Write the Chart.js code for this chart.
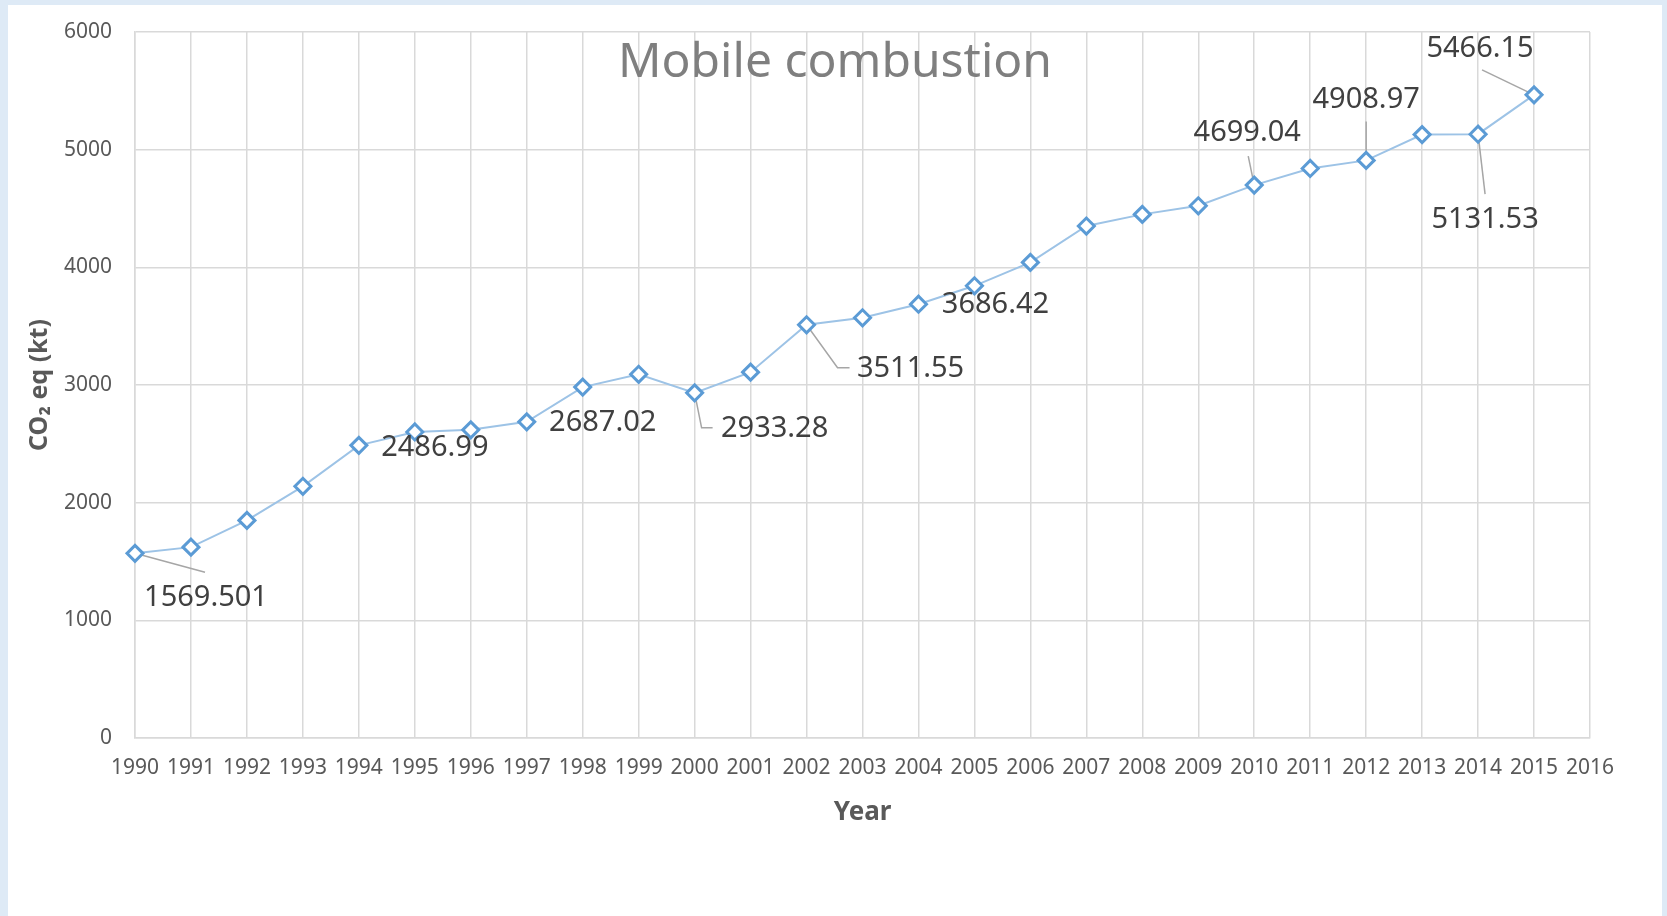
<!DOCTYPE html>
<html lang="en">
<head>
    <meta charset="UTF-8">
    <meta name="viewport" content="width=device-width, initial-scale=1.0">
    <title>Mobile combustion</title>
    <script src="https://cdn.jsdelivr.net/npm/chart.js"></script>
    <style>
        body {
            margin: 0;
            padding: 0;
            background-color: #deeaf6;
            font-family: "Noto Sans", sans-serif;
        }
        .panel {
            position: absolute;
            left: 8px;
            top: 5px;
            width: 1654px;
            height: 911px;
            background: white;
        }
    </style>
</head>
<body>
    <div class="panel">
        <canvas id="mobileChart"></canvas>
    </div>
    <script>
        // x axis categories (2016 has no value, only a tick)
        const years = ['1990', '1991', '1992', '1993', '1994', '1995', '1996', '1997', '1998', '1999',
            '2000', '2001', '2002', '2003', '2004', '2005', '2006', '2007', '2008', '2009',
            '2010', '2011', '2012', '2013', '2014', '2015', '2016'];

        // CO2 eq (kt), unlabeled points
        const emissions = [1569.501, 1622, 1849, 2139, 2486.99, 2601, 2619, 2687.02, 2982, 3091,
            2933.28, 3109, 3511.55, 3571, 3686.42, 3843, 4042, 4351, 4450, 4523,
            4699.04, 4840, 4908.97, 5128, 5131.53, 5466.15];

        const yTicks = [0, 1000, 2000, 3000, 4000, 5000, 6000];

        // points that carry a data label
        const labeledPoints = [0, 4, 7, 10, 12, 14, 20, 22, 24, 25];

        // where each label sits relative to its point, plus leader line bends
        const labelPlacement = {
            0: { dx: 71, dy: 44, leader: [[70, 19]] },
            4: { dx: 76, dy: 2 },
            7: { dx: 76, dy: 1 },
            10: { dx: 80, dy: 36, leader: [[7, 35], [18, 35]] },
            12: { dx: 104, dy: 44, leader: [[31, 43], [43, 43]] },
            14: { dx: 77, dy: 1 },
            20: { dx: -7, dy: -52, leader: [[-6, -29]] },
            22: { dx: 0, dy: -61, leader: [[0, -39]] },
            24: { dx: 7, dy: 86, leader: [[7, 60]] },
            25: { dx: -54, dy: -46, leader: [[-52, -25]] }
        };

        const gridColor = '#d9d9d9';
        const tickColor = '#595959';

        const dataLabels = {
            id: 'dataLabels',
            beforeDatasetsDraw(chart) {
                const ctx = chart.ctx;
                const pts = chart.getDatasetMeta(0).data;
                ctx.save();
                ctx.strokeStyle = '#a6a6a6';
                ctx.lineWidth = 1.5;
                labeledPoints.forEach(i => {
                    const p = labelPlacement[i];
                    if (!p.leader) return;
                    ctx.beginPath();
                    ctx.moveTo(pts[i].x, pts[i].y);
                    p.leader.forEach(([lx, ly]) => ctx.lineTo(pts[i].x + lx, pts[i].y + ly));
                    ctx.stroke();
                });
                ctx.restore();
            },
            afterDatasetsDraw(chart) {
                const ctx = chart.ctx;
                const pts = chart.getDatasetMeta(0).data;
                ctx.save();
                ctx.font = '29px "Noto Sans"';
                ctx.fillStyle = '#404040';
                ctx.textAlign = 'center';
                ctx.textBaseline = 'middle';
                labeledPoints.forEach(i => {
                    const p = labelPlacement[i];
                    ctx.fillText(String(emissions[i]), pts[i].x + p.dx, pts[i].y + p.dy);
                });
                ctx.restore();
            },
            afterDraw(chart) {
                // title overlaps the plot area, like in the original
                const ctx = chart.ctx;
                ctx.save();
                ctx.font = '48px "Noto Sans"';
                ctx.fillStyle = '#7f7f7f';
                ctx.textAlign = 'center';
                ctx.textBaseline = 'middle';
                ctx.fillText('Mobile combustion', chart.width / 2, 58);
                ctx.restore();
            }
        };

        const ctx = document.getElementById('mobileChart').getContext('2d');

        const chart = new Chart(ctx, {
            type: 'line',
            data: {
                labels: years,
                datasets: [{
                    data: emissions,
                    borderColor: '#9dc3e6',
                    borderWidth: 2,
                    pointStyle: 'rectRot',
                    pointRadius: 8,
                    pointBorderWidth: 3,
                    pointBorderColor: '#5b9bd5',
                    pointBackgroundColor: '#ffffff',
                    tension: 0
                }]
            },
            options: {
                responsive: true,
                maintainAspectRatio: false,
                animation: false,
                layout: {
                    padding: { left: 0, top: 27, right: 72, bottom: 0 }
                },
                plugins: {
                    legend: { display: false },
                    tooltip: { enabled: false }
                },
                scales: {
                    x: {
                        offset: false,
                        afterFit: scale => { scale.height = 178; },
                        grid: { color: gridColor, lineWidth: 1.5, drawTicks: false },
                        border: { color: gridColor, width: 1.5 },
                        ticks: {
                            color: tickColor,
                            padding: 17,
                            maxRotation: 0,
                            autoSkip: false,
                            font: { family: 'Noto Sans', size: 21 }
                        },
                        title: {
                            display: true,
                            text: 'Year',
                            color: tickColor,
                            padding: { top: 0, bottom: 88 },
                            font: { family: 'Noto Sans', size: 26, weight: 'bold' }
                        }
                    },
                    y: {
                        min: yTicks[0],
                        max: yTicks[yTicks.length - 1],
                        afterFit: scale => {
                            scale.width = 127;
                            scale.paddingTop = 0;
                            scale.paddingBottom = 0;
                        },
                        afterBuildTicks: scale => { scale.ticks = yTicks.map(v => ({ value: v })); },
                        grid: { color: gridColor, lineWidth: 1.5, drawTicks: false },
                        border: { color: gridColor, width: 1.5 },
                        ticks: {
                            color: tickColor,
                            padding: 23,
                            font: { family: 'Noto Sans', size: 21 },
                            callback: value => String(value)
                        },
                        title: {
                            display: true,
                            text: 'CO₂ eq (kt)',
                            color: tickColor,
                            padding: { top: 17, bottom: 0 },
                            font: { family: 'Noto Sans', size: 25, weight: 'bold' }
                        }
                    }
                }
            },
            plugins: [dataLabels]
        });
    </script>
</body>
</html>
